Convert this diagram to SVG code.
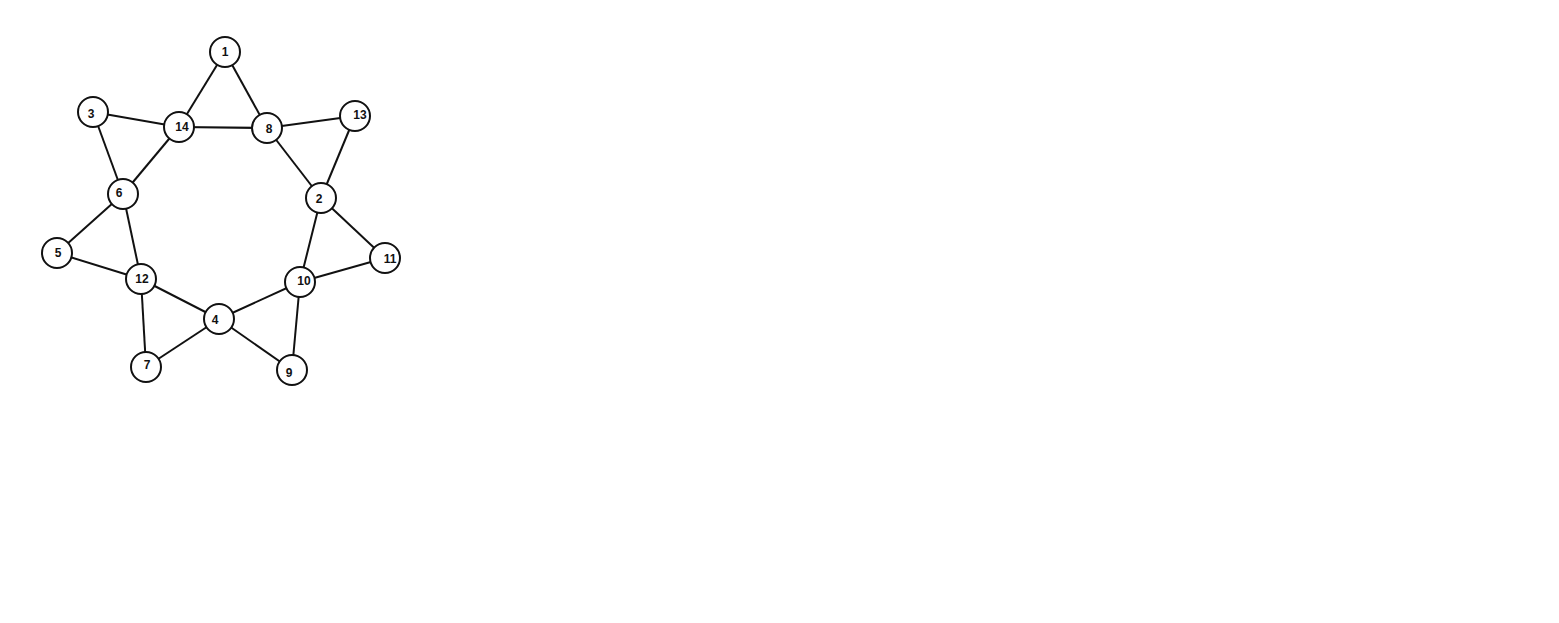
<svg xmlns="http://www.w3.org/2000/svg" width="1559" height="623" viewBox="0 0 1559 623">
<style>
.e{stroke:#111;stroke-width:2;fill:none}
.n circle{fill:#fff;stroke:#111;stroke-width:2}
.n text{font-family:"Liberation Sans",Arial,sans-serif;font-size:12px;font-weight:bold;fill:#111;text-anchor:middle;dominant-baseline:central}
</style>
<rect width="1559" height="623" fill="#fff"/>
<g id="edges" class="e">
<line x1="225" y1="52" x2="179" y2="127"/>
<line x1="225" y1="52" x2="267" y2="128"/>
<line x1="179" y1="127" x2="267" y2="128"/>
<line x1="93" y1="112" x2="179" y2="127"/>
<line x1="93" y1="112" x2="123" y2="194"/>
<line x1="179" y1="127" x2="123" y2="194"/>
<line x1="267" y1="128" x2="355" y2="116"/>
<line x1="267" y1="128" x2="321" y2="198"/>
<line x1="355" y1="116" x2="321" y2="198"/>
<line x1="123" y1="194" x2="57" y2="253"/>
<line x1="123" y1="194" x2="141" y2="279"/>
<line x1="57" y1="253" x2="141" y2="279"/>
<line x1="141" y1="279" x2="219" y2="319"/>
<line x1="141" y1="279" x2="146" y2="367"/>
<line x1="146" y1="367" x2="219" y2="319"/>
<line x1="321" y1="198" x2="300" y2="282"/>
<line x1="321" y1="198" x2="385" y2="258"/>
<line x1="300" y1="282" x2="385" y2="258"/>
<line x1="300" y1="282" x2="219" y2="319"/>
<line x1="300" y1="282" x2="292" y2="370"/>
<line x1="219" y1="319" x2="292" y2="370"/>
</g>
<g id="n1" class="n"><circle cx="225" cy="52" r="15"/><text x="225" y="52">1</text></g>
<g id="n3" class="n"><circle cx="93" cy="112" r="15"/><text x="91" y="114">3</text></g>
<g id="n14" class="n"><circle cx="179" cy="127" r="15"/><text x="182" y="127">14</text></g>
<g id="n8" class="n"><circle cx="267" cy="128" r="15"/><text x="269" y="129">8</text></g>
<g id="n13" class="n"><circle cx="355" cy="116" r="15"/><text x="360" y="115">13</text></g>
<g id="n6" class="n"><circle cx="123" cy="194" r="15"/><text x="119" y="193">6</text></g>
<g id="n2" class="n"><circle cx="321" cy="198" r="15"/><text x="319" y="199">2</text></g>
<g id="n5" class="n"><circle cx="57" cy="253" r="15"/><text x="58" y="253">5</text></g>
<g id="n11" class="n"><circle cx="385" cy="258" r="15"/><text x="390" y="259">11</text></g>
<g id="n12" class="n"><circle cx="141" cy="279" r="15"/><text x="142" y="279">12</text></g>
<g id="n10" class="n"><circle cx="300" cy="282" r="15"/><text x="304" y="281">10</text></g>
<g id="n4" class="n"><circle cx="219" cy="319" r="15"/><text x="215" y="320">4</text></g>
<g id="n7" class="n"><circle cx="146" cy="367" r="15"/><text x="147" y="365">7</text></g>
<g id="n9" class="n"><circle cx="292" cy="370" r="15"/><text x="289" y="373">9</text></g>
</svg>
